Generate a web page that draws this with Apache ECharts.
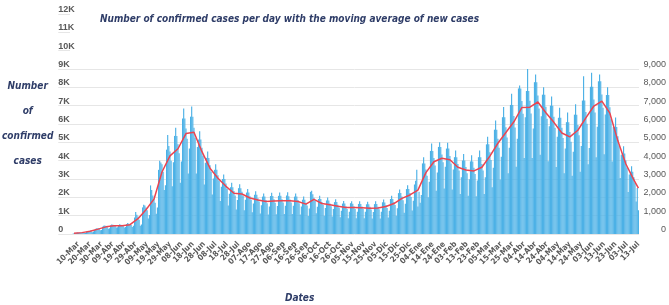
<!DOCTYPE html>
<html>
<head>
<meta charset="utf-8">
<script src="https://cdn.jsdelivr.net/npm/echarts@6/dist/echarts.min.js"></script>
<style>
  html, body { margin: 0; padding: 0; background: #fff; }
  #chart { width: 669px; height: 305px; }
</style>
</head>
<body>
<div id="chart"></div>
<script>
// daily confirmed cases, 03-Mar-2020 .. 13-Jul-2021 (one row per week, Tue..Mon)
var dailyCases = [
  0, 5, 20, 40, 60, 70, 85,
  70, 80, 85, 90, 80, 60, 60,
  130, 160, 170, 175, 150, 100, 130,
  230, 290, 310, 320, 280, 200, 225,
  400, 450, 460, 430, 390, 280, 320,
  470, 520, 500, 480, 430, 350, 365,
  480, 530, 510, 480, 440, 360, 385,
  540, 600, 560, 540, 500, 380, 450,
  900, 1200, 1050, 950, 780, 450, 515,
  1450, 1600, 1550, 1450, 1300, 850, 1040,
  2650, 2400, 2100, 1900, 1700, 1100, 1450,
  3500, 4000, 3900, 3800, 3400, 2400, 2660,
  4600, 5400, 4800, 4500, 4000, 2600, 3920,
  5350, 5800, 5350, 4900, 4400, 2800, 3950,
  6300, 6850, 6300, 5750, 5200, 3300, 4660,
  6400, 6950, 6400, 5800, 5250, 3300, 4750,
  5150, 5600, 5150, 4700, 4250, 2700, 3880,
  4150, 4500, 4150, 3750, 3400, 2150, 3030,
  3500, 3800, 3500, 3200, 2900, 1800, 2580,
  3000, 3250, 3000, 2750, 2450, 1550, 2200,
  2550, 2800, 2550, 2350, 2100, 1330, 1860,
  2500, 2720, 2500, 2300, 2070, 1300, 1870,
  2260, 2460, 2260, 2060, 1870, 1180, 1665,
  2140, 2330, 2140, 1950, 1770, 1120, 1570,
  2040, 2210, 2040, 1860, 1680, 1060, 1500,
  2070, 2250, 2070, 1890, 1710, 1080, 1530,
  2080, 2260, 2080, 1900, 1720, 1090, 1540,
  2100, 2280, 2060, 1880, 1720, 1090, 1540,
  2040, 2210, 2040, 1860, 1680, 1060, 1500,
  1870, 2040, 1870, 1710, 1550, 980, 1390,
  2300, 2360, 2170, 1980, 1800, 1130, 1490,
  1910, 2080, 1910, 1750, 1580, 1000, 1425,
  1830, 1990, 1830, 1670, 1520, 960, 1365,
  1740, 1890, 1740, 1590, 1430, 910, 1270,
  1660, 1800, 1660, 1510, 1370, 860, 1220,
  1680, 1790, 1650, 1510, 1370, 860, 1220,
  1640, 1790, 1640, 1500, 1360, 860, 1220,
  1620, 1760, 1620, 1480, 1340, 850, 1200,
  1630, 1780, 1630, 1490, 1350, 850, 1210,
  1730, 1880, 1720, 1580, 1420, 900, 1270,
  1910, 2080, 1910, 1740, 1580, 1000, 1400,
  2230, 2430, 2230, 2040, 1840, 1160, 1650,
  2450, 2660, 2450, 2240, 2020, 1280, 1810,
  2700, 2900, 3500, 1500, 2300, 1700, 2130,
  3850, 4190, 3850, 3520, 3180, 2010, 2850,
  4530, 4930, 4530, 4140, 3740, 2360, 3350,
  4750, 5000, 4750, 4340, 3920, 2480, 3670,
  4660, 4980, 4660, 4250, 3850, 2430, 3520,
  4190, 4550, 4190, 3820, 3460, 2180, 3090,
  4010, 4360, 4010, 3660, 3320, 2090, 2980,
  3960, 4300, 3960, 3610, 3270, 2060, 2920,
  4190, 4550, 4190, 3820, 3460, 2180, 3090,
  4890, 5310, 4890, 4460, 4040, 2550, 3610,
  5690, 6190, 5690, 5200, 4700, 2970, 4210,
  6370, 6930, 6370, 5820, 5260, 3320, 4710,
  7040, 7650, 7040, 6430, 5810, 3670, 5200,
  7940, 8100, 7940, 7250, 6560, 4140, 6370,
  7800, 9100, 7800, 7270, 6570, 4150, 5750,
  8280, 8700, 8280, 7560, 6840, 4320, 6420,
  7600, 8000, 7600, 6940, 6280, 3970, 5880,
  7000, 7500, 7000, 6390, 5790, 3650, 5300,
  6340, 6890, 6340, 5790, 5230, 3310, 4670,
  6100, 6630, 6100, 5570, 5030, 3180, 4490,
  6510, 7080, 6510, 5940, 5380, 3400, 4800,
  7280, 8600, 7280, 6650, 6010, 3800, 4690,
  8030, 8800, 8030, 7330, 6630, 4190, 5850,
  8330, 8700, 8330, 7610, 6880, 4350, 6515,
  7580, 8000, 7580, 6920, 6260, 3950, 5840,
  5840, 6350, 5840, 5330, 4830, 3050, 4320,
  4390, 4780, 4390, 4010, 3630, 2290, 3250,
  3390, 3690, 3390, 3100, 2800, 1770, 2510,
  1300
];

// moving average, one reading per week (mid-week), last one on the final day
var movingAvg = [
  40, 75, 145, 265, 390, 445, 455, 510, 835, 1320,
  1900, 3380, 4260, 4650, 5480, 5550, 4490, 3590, 3040, 2600,
  2220, 2180, 1965, 1860, 1770, 1800, 1810, 1810, 1770, 1630,
  1890, 1665, 1595, 1510, 1440, 1440, 1430, 1410, 1420, 1500,
  1660, 1940, 2130, 2390, 3350, 3940, 4130, 4050, 3640, 3490,
  3440, 3640, 4250, 4950, 5540, 6120, 6900, 6920, 7200, 6610,
  6090, 5510, 5300, 5660, 6330, 6980, 7245, 6590, 5080, 3820,
  2950, 2500
];

var monthNames = ["Ene", "Feb", "Mar", "Abr", "May", "Jun", "Jul", "Ago", "Sep", "Oct", "Nov", "Dic"];

var dates = [];
for (var i = 0; i < dailyCases.length; i++) {
  var d = new Date(Date.UTC(2020, 2, 3 + i));
  var dd = d.getUTCDate();
  dates.push((dd < 10 ? "0" + dd : "" + dd) + "-" + monthNames[d.getUTCMonth()]);
}

var maData = movingAvg.map(function (v, k) {
  return [Math.min(7 * k + 3, dates.length - 1), v];
});

var navy = "#2f3d68";
var labelGrey = "#595959";
var narrow = "'Liberation Sans Narrow', 'DejaVu Sans Condensed', sans-serif";

var chart = echarts.init(document.getElementById("chart"));
chart.setOption({
  animation: false,
  title: [
    {
      text: "Number of confirmed cases per day with the moving average of new cases",
      left: 95,
      top: 9,
      textStyle: { fontFamily: narrow, fontStyle: "italic", fontWeight: "bold", fontSize: 10, color: navy }
    },
    {
      text: "Dates",
      left: 280,
      top: 288,
      textStyle: { fontFamily: narrow, fontStyle: "italic", fontWeight: "bold", fontSize: 10, color: navy }
    }
  ],
  grid: [
    { left: 52, width: 18, top: 14, bottom: 71 },
    { left: 70, right: 30, top: 69, bottom: 71 }
  ],
  xAxis: [
    { gridIndex: 0, type: "value", show: false },
    {
      gridIndex: 1,
      type: "category",
      data: dates,
      axisTick: { show: false },
      axisLine: { show: false },
      axisLabel: {
        interval: function (index) { return (index - 7) % 10 === 0; },
        rotate: 45,
        margin: 9,
        fontFamily: narrow,
        fontWeight: "bold",
        fontSize: 8,
        color: labelGrey
      }
    }
  ],
  yAxis: [
    {
      gridIndex: 0,
      type: "value",
      min: 0,
      max: 12000,
      interval: 1000,
      name: "Number\nof\nconfirmed\ncases",
      nameLocation: "middle",
      nameRotate: 0,
      nameGap: 30,
      nameTextStyle: {
        fontFamily: narrow, fontStyle: "italic", fontWeight: "bold", fontSize: 10,
        color: navy, lineHeight: 25, align: "center", padding: [9, 0, 0, 0]
      },
      axisLine: { show: false },
      axisTick: { show: false },
      splitLine: { lineStyle: { color: "#e6e6e6" } },
      axisLabel: {
        inside: true,
        margin: 0,
        verticalAlign: "bottom",
        fontFamily: "'Liberation Sans', sans-serif",
        fontWeight: "bold",
        fontSize: 9,
        color: labelGrey,
        formatter: function (v) { return v === 0 ? "0" : v / 1000 + "K"; }
      }
    },
    {
      gridIndex: 1,
      type: "value",
      position: "right",
      min: 0,
      max: 9000,
      interval: 1000,
      axisLine: { show: false },
      axisTick: { show: false },
      splitLine: { lineStyle: { color: "#e6e6e6" } },
      axisLabel: {
        margin: 27,
        align: "right",
        verticalAlign: "bottom",
        fontFamily: "'Liberation Sans', sans-serif",
        fontSize: 9,
        color: labelGrey,
        formatter: function (v) { return v.toLocaleString("en-US"); }
      }
    }
  ],
  series: [
    {
      name: "Confirmed cases",
      type: "bar",
      xAxisIndex: 1,
      yAxisIndex: 1,
      data: dailyCases,
      barCategoryGap: "0%",
      itemStyle: { color: "#4cb1e6" }
    },
    {
      name: "Moving average",
      type: "line",
      xAxisIndex: 1,
      yAxisIndex: 1,
      data: maData,
      symbol: "none",
      connectNulls: true,
      lineStyle: { color: "#ec4450", width: 1.5 },
      z: 3
    }
  ]
});
</script>
</body>
</html>
